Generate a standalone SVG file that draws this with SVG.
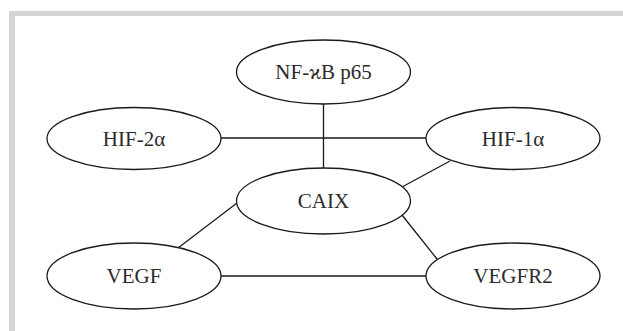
<svg xmlns="http://www.w3.org/2000/svg" width="623" height="331" viewBox="0 0 623 331">
<style>
.node ellipse{fill:#fff;stroke:#1a1a1a;stroke-width:1.3}
.node text{font-family:"Liberation Serif","Times New Roman",serif;font-size:21px;fill:#2b2b2b;text-anchor:middle}
#edges line{stroke:#1a1a1a;stroke-width:1.3}
</style>
<rect x="0" y="0" width="623" height="331" fill="#fff"/>
<rect x="9" y="11" width="614" height="5" fill="#d4d4d4"/>
<rect x="9" y="11" width="6" height="320" fill="#d4d4d4"/>
<g id="edges">
<line x1="221" y1="138" x2="426" y2="138"/>
<line x1="323.5" y1="104" x2="323.5" y2="169"/>
<line x1="450" y1="161" x2="402" y2="187"/>
<line x1="237" y1="203" x2="178" y2="248"/>
<line x1="402" y1="215" x2="437" y2="259"/>
<line x1="221" y1="276" x2="426" y2="276"/>
</g>
<g id="nfkb" class="node"><ellipse cx="323.5" cy="72" rx="87" ry="32"/><text x="323.5" y="79">NF-ϰB p65</text></g>
<g id="hif2a" class="node"><ellipse cx="134" cy="138.5" rx="87" ry="31"/><text x="134" y="145.5">HIF-2α</text></g>
<g id="hif1a" class="node"><ellipse cx="513" cy="138.5" rx="87" ry="31"/><text x="513" y="145.5">HIF-1α</text></g>
<g id="caix" class="node"><ellipse cx="323.5" cy="201" rx="87" ry="33"/><text x="323.5" y="208">CAIX</text></g>
<g id="vegf" class="node"><ellipse cx="134" cy="276" rx="87" ry="33"/><text x="134" y="283">VEGF</text></g>
<g id="vegfr2" class="node"><ellipse cx="513" cy="276" rx="87" ry="33"/><text x="513" y="283">VEGFR2</text></g>
</svg>
